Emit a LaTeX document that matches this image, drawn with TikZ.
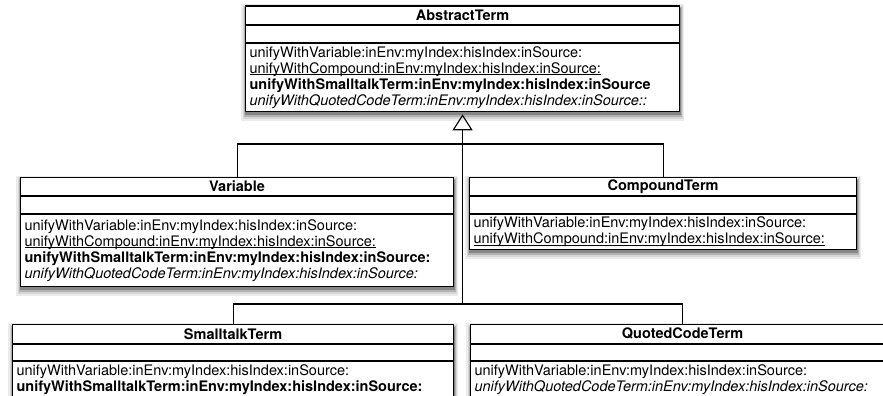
\documentclass[tikz,border=0pt]{standalone}
\usepackage{fontspec}
\setmainfont{TeX Gyre Heros}
\usetikzlibrary{positioning,calc,backgrounds,arrows.meta}

\newcommand{\opunder}[1]{\leavevmode\setbox0\hbox{#1}\rlap{\rule[-1.6pt]{\wd0}{0.6pt}}\box0}

\tikzset{every picture/.style={line width=1.1pt}}
\tikzset{
  clsname/.style={draw, fill=white, anchor=north west, minimum height=18.5pt, inner sep=0pt, font=\fontsize{14.5}{16}\selectfont\bfseries},
  clsattr/.style={draw, fill=white, anchor=north, minimum height=16.5pt, inner sep=0pt},
  clsops/.style={draw, fill=white, anchor=north, inner xsep=4pt, inner ysep=0pt, align=left, font=\fontsize{14.5}{16}\selectfont},
  clsshadow/.style={fill=black!#1, draw=none},
  isa/.style={-{Triangle[open,length=16pt,width=20pt]}, shorten >=2pt}
}

\begin{document}
\begin{tikzpicture}[x=1pt,y=1pt,yscale=-1,xscale=1]
\useasboundingbox (0,0) rectangle (883,396);

%Class: AbstractTerm
\node [clsname, minimum width=434pt] (abs) at (245,5.5) {AbstractTerm};
\node [clsattr, minimum width=434pt, below=0pt of abs] (absattr) {};
\node [clsops, text width=426pt, minimum height=68.5pt, below=0pt of absattr] (absops) {unifyWithVariable:inEnv:myIndex:hisIndex:inSource:\\
\opunder{unifyWithCompound:inEnv:myIndex:hisIndex:inSource:}\\
\textbf{unifyWithSmalltalkTerm:inEnv:myIndex:hisIndex:inSource}\\
\textit{unifyWithQuotedCodeTerm:inEnv:myIndex:hisIndex:inSource::}};

%Class: Variable
\node [clsname, minimum width=433pt] (var) at (20,176.5) {Variable};
\node [clsattr, minimum width=433pt, below=0pt of var] (varattr) {};
\node [clsops, text width=425pt, minimum height=72pt, below=0pt of varattr] (varops) {unifyWithVariable:inEnv:myIndex:hisIndex:inSource:\\
\opunder{unifyWithCompound:inEnv:myIndex:hisIndex:inSource:}\\
\textbf{unifyWithSmalltalkTerm:inEnv:myIndex:hisIndex:inSource:}\\
\textit{unifyWithQuotedCodeTerm:inEnv:myIndex:hisIndex:inSource:}};

%Class: CompoundTerm
\node [clsname, minimum width=387pt] (cmp) at (469,176.5) {CompoundTerm};
\node [clsattr, minimum width=387pt, below=0pt of cmp] (cmpattr) {};
\node [clsops, text width=379pt, minimum height=35pt, below=0pt of cmpattr] (cmpops) {unifyWithVariable:inEnv:myIndex:hisIndex:inSource:\\
\opunder{unifyWithCompound:inEnv:myIndex:hisIndex:inSource:}};

%Class: SmalltalkTerm
\node [clsname, minimum width=441pt] (st) at (12,324) {SmalltalkTerm};
\node [clsattr, minimum width=441pt, below=0pt of st] (stattr) {};
\node [clsops, text width=433pt, minimum height=36pt, below=0pt of stattr] (stops) {unifyWithVariable:inEnv:myIndex:hisIndex:inSource:\\
\textbf{unifyWithSmalltalkTerm:inEnv:myIndex:hisIndex:inSource:}};

%Class: QuotedCodeTerm
\node [clsname, minimum width=424pt] (qc) at (470,324) {QuotedCodeTerm};
\node [clsattr, minimum width=424pt, below=0pt of qc] (qcattr) {};
\node [clsops, text width=416pt, minimum height=36pt, below=0pt of qcattr] (qcops) {unifyWithVariable:inEnv:myIndex:hisIndex:inSource:\\
\textit{unifyWithQuotedCodeTerm:inEnv:myIndex:hisIndex:inSource:}};

%Shadows
\begin{scope}[on background layer]
\foreach \top/\bot in {abs/absops, var/varops, cmp/cmpops, st/stops, qc/qcops} {
  \fill [clsshadow=8] ($(\top.north west)+(-4,-1)$) rectangle ($(\bot.south east)+(4,9)$);
  \fill [clsshadow=16] ($(\top.north west)+(-2.5,0.5)$) rectangle ($(\bot.south east)+(3,7)$);
  \fill [clsshadow=30] ($(\top.north west)+(-1,2)$) rectangle ($(\bot.south east)+(2,5)$);
  \fill [clsshadow=48] ($(\top.north west)+(0,3)$) rectangle ($(\bot.south east)+(1,3)$);
}
\end{scope}

%Generalization
\coordinate (lvl1) at (0,144);
\coordinate (lvl2) at (0,304);
\draw [isa] (absops.south |- lvl2) -- (absops.south);
\draw (var.north) |- (absops.south |- lvl1) -| (cmp.north);
\draw (st.north) |- (absops.south |- lvl2) -| (qc.north);

\end{tikzpicture}
\end{document}
